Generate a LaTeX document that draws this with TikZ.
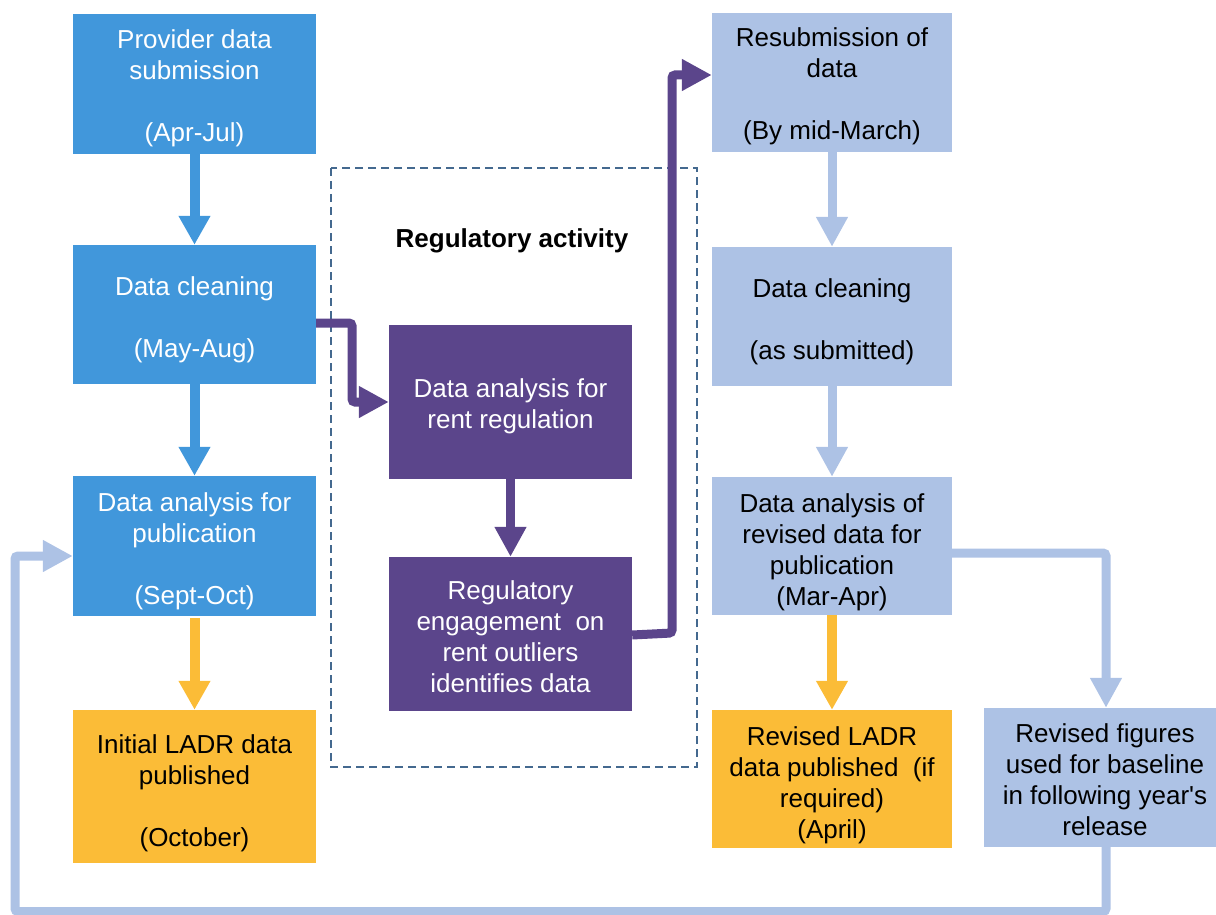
\documentclass[tikz,border=0pt]{standalone}
\usepackage{fontspec}
\setmainfont{Liberation Sans}
\usetikzlibrary{arrows.meta}
\definecolor{cblue}{RGB}{65,151,219}
\definecolor{cpurple}{RGB}{91,69,139}
\definecolor{clight}{RGB}{173,194,229}
\definecolor{corange}{RGB}{251,188,55}
\definecolor{cdash}{RGB}{68,105,143}
\newcommand\tst[1]{\rule{0pt}{#1pt}}
\begin{document}
\begin{tikzpicture}[x=1pt,y=-1pt,
  box/.style={rectangle, inner sep=0pt, align=center, font=\fontsize{26}{31}\selectfont},
  bluebox/.style={box, fill=cblue, text=white, minimum width=243pt, minimum height=140pt},
  purplebox/.style={box, fill=cpurple, text=white, minimum width=243pt, minimum height=154pt},
  lightbox/.style={box, fill=clight, text=black, minimum width=240pt, minimum height=139pt},
  orangebox/.style={box, fill=corange, text=black},
  arr/.style={line width=10pt, -{Triangle[width=30pt,length=29pt]}},
  parr/.style={line width=9pt, rounded corners=3pt, -{Triangle[width=30pt,length=30pt]}},
  larr/.style={line width=9pt, rounded corners=3pt, color=clight, -{Triangle[width=30pt,length=30pt]}},
  dashbox/.style={draw=cdash, line width=2pt, dash pattern=on 8pt off 5pt}
]
\clip (0,0) rectangle (1216,915);
\useasboundingbox (0,0) rectangle (1216,915);

% dashed regulatory region
\draw[dashbox] (331,168) rectangle (697,767);
\node[font=\fontsize{26}{31}\selectfont\bfseries] (reg) at (512,241) {Regulatory activity};

% left column
\node[bluebox] (p1) at (194.5,84) {\tst{27}Provider data\\submission\\[31pt](Apr-Jul)};
\node[bluebox, minimum height=139pt] (p2) at (194.5,314.5) {\tst{29}Data cleaning\\[31pt](May-Aug)};
\node[bluebox] (p3) at (194.5,546) {\tst{29}Data analysis for\\publication\\[31pt](Sept-Oct)};
\node[orangebox, minimum width=243pt, minimum height=153pt] (p4) at (194.5,786.5) {\tst{33}Initial LADR data\\published\\[31pt](October)};

% middle column
\node[purplebox] (g1) at (510.5,402) {\tst{27}Data analysis for\\rent regulation};
\node[purplebox] (g2) at (510.5,634) {\tst{25}Regulatory\\engagement\ \ on\\rent outliers\\identifies data};

% right column
\node[lightbox] (r1) at (832,82.5) {\tst{27}Resubmission of\\data\\[31pt](By mid-March)};
\node[lightbox] (r2) at (832,316.5) {\tst{29}Data cleaning\\[31pt](as submitted)};
\node[lightbox, minimum height=138pt] (r3) at (832,546) {\tst{31}Data analysis of\\revised data for\\publication\\(Mar-Apr)};
\node[orangebox, minimum width=240pt, minimum height=138pt] (r4) at (832,779) {\tst{31}Revised LADR\\data published\ \ (if\\required)\\(April)};
\node[lightbox, minimum width=242pt] (r5) at (1105,777.5) {\tst{23}Revised figures\\used for baseline\\in following year\textquotesingle s\\release};

% connectors left column
\draw[arr, cblue] (p1.south) -- (p2.north);
\draw[arr, cblue] (p2.south) -- (p3.north);
\draw[arr, corange] ([yshift=-2pt]p3.south) -- (p4.north);

% purple connectors
\coordinate (k1) at (352,323);
\coordinate (k2) at (352,402);
\draw[parr, cpurple] ([yshift=-8.5pt]p2.east) -- (k1) -- (k2) -- (g1.west);
\draw[parr, cpurple] (g1.south) -- (g2.north);
\coordinate (k3) at (672,633);
\coordinate (k4) at (672,75);
\draw[parr, cpurple] ([yshift=-1pt]g2.east) -- (k3) -- (k4) -- ([yshift=7.5pt]r1.west);

% right column connectors
\draw[larr] (r1.south) -- (r2.north);
\draw[larr] (r2.south) -- (r3.north);
\draw[arr, corange, line width=10pt] (r3.south) -- (r4.north);
\coordinate (k5) at (1106,553);
\draw[larr] ([yshift=-7pt]r3.east) -- (k5) -- ([xshift=1pt]r5.north);

% feedback loop
\coordinate (k6) at (1106,911.5);
\coordinate (k7) at (15,911.5);
\coordinate (k8) at (15,556);
\draw[larr] ([xshift=1pt]r5.south) -- (k6) -- (k7) -- (k8) -- ([yshift=-10pt]p3.west);
\end{tikzpicture}
\end{document}
